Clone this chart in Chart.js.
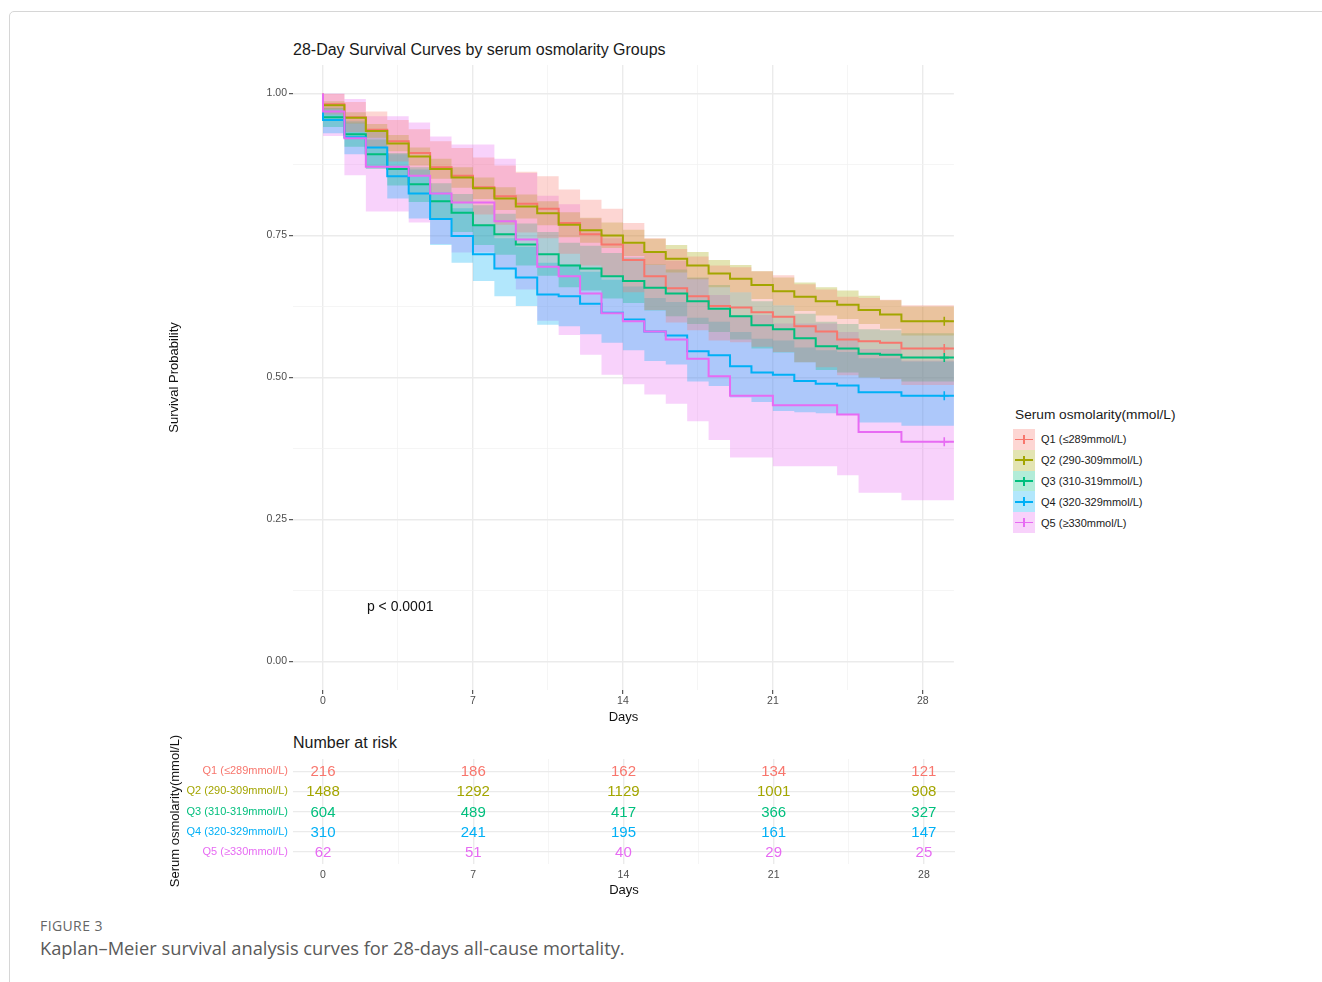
<!DOCTYPE html>
<html>
<head>
<meta charset="utf-8">
<script src="https://cdn.jsdelivr.net/npm/chart.js@4.4.1/dist/chart.umd.min.js"></script>
<style>
  body { margin: 0; background: #fff; width: 1322px; height: 982px; overflow: hidden; position: relative;
         font-family: "Liberation Sans", Arial, sans-serif; }
  .frame { position: absolute; left: 9px; top: 11px; width: 1400px; height: 1000px;
           border: 1px solid #d6d6d6; border-radius: 5px; }
  .abs { position: absolute; white-space: nowrap; }
  #mainTitle { left: 293px; top: 41px; font-size: 16px; color: #1a1a1a; }
  #kmWrap { left: 150px; top: 30px; }
  #riskWrap { left: 150px; top: 725px; }
  #riskTitle { left: 293px; top: 734px; font-size: 16px; color: #1a1a1a; }
  #riskYTitle { left: 75px; top: 803px; width: 200px; height: 16px; line-height: 16px; text-align: center;
                font-size: 13px; color: #111; transform: rotate(-90deg); }
  #legend { left: 1013px; top: 406px; }
  #legend .lgTitle { font-size: 13.7px; color: #1a1a1a; height: 20px; line-height: 18px; margin-left: 2px; margin-bottom: 3px; }
  .lgItem { height: 20.8px; display: flex; align-items: center; }
  .lgKey { position: relative; width: 22px; height: 20.8px; }
  .lgKey .h { position: absolute; left: 2px; right: 2px; top: 9.6px; height: 1.6px; }
  .lgKey .v { position: absolute; left: 10.2px; width: 1.6px; top: 6px; height: 9px; }
  .lgLabel { font-size: 11px; color: #1a1a1a; margin-left: 6px; }
  #figLabel { left: 40px; top: 916px; font-family: "Open Sans", sans-serif; font-size: 14px; color: #666; letter-spacing: 0.4px; }
  #figCaption { left: 40px; top: 935px; font-family: "Open Sans", sans-serif; font-size: 18.3px; color: #5a5a5a; }
</style>
</head>
<body>
<div class="frame"></div>
<div id="mainTitle" class="abs">28-Day Survival Curves by serum osmolarity Groups</div>
<div id="kmWrap" class="abs"><canvas id="km" width="810" height="700"></canvas></div>
<div id="legend" class="abs"><div class="lgTitle">Serum osmolarity(mmol/L)</div></div>
<div id="riskTitle" class="abs">Number at risk</div>
<div id="riskWrap" class="abs"><canvas id="risk" width="810" height="180"></canvas></div>
<div id="riskYTitle" class="abs">Serum osmolarity(mmol/L)</div>
<div id="figLabel" class="abs">FIGURE 3</div>
<div id="figCaption" class="abs">Kaplan–Meier survival analysis curves for 28-days all-cause mortality.</div>

<script>
// ---- data ----
const days = [0, 1, 2, 3, 4, 5, 6, 7, 8, 9, 10, 11, 12, 13, 14, 15, 16, 17, 18, 19, 20, 21, 22, 23, 24, 25, 26, 27, 28];
const xEnd = 29.45;      // curves run on to the right edge of the panel
const xMin = -1.4;
const censorDay = 29;

const groupNames = ["Q1 (≤289mmol/L)", "Q2 (290-309mmol/L)", "Q3 (310-319mmol/L)", "Q4 (320-329mmol/L)", "Q5 (≥330mmol/L)"];
const groupColors = ["#F8766D", "#A3A500", "#00BF7D", "#00B0F6", "#E76BF3"];

const q1Surv  = [1.000, 0.981, 0.958, 0.936, 0.916, 0.895, 0.870, 0.855, 0.835, 0.819, 0.806, 0.797, 0.772, 0.752, 0.734, 0.707, 0.678, 0.657, 0.643, 0.626, 0.623, 0.615, 0.607, 0.590, 0.581, 0.567, 0.564, 0.561, 0.551];
const q1Lower = [1.000, 0.963, 0.932, 0.905, 0.880, 0.855, 0.826, 0.809, 0.787, 0.769, 0.755, 0.745, 0.718, 0.697, 0.678, 0.650, 0.619, 0.597, 0.583, 0.565, 0.562, 0.554, 0.545, 0.527, 0.518, 0.504, 0.500, 0.497, 0.487];
const q1Upper = [1.000, 0.999, 0.985, 0.968, 0.953, 0.937, 0.916, 0.904, 0.887, 0.873, 0.862, 0.854, 0.831, 0.813, 0.797, 0.772, 0.745, 0.726, 0.713, 0.697, 0.694, 0.687, 0.680, 0.664, 0.655, 0.642, 0.640, 0.637, 0.627];

const q2Surv  = [0.998, 0.979, 0.957, 0.934, 0.912, 0.889, 0.867, 0.852, 0.833, 0.815, 0.801, 0.789, 0.769, 0.759, 0.750, 0.737, 0.721, 0.709, 0.697, 0.683, 0.674, 0.663, 0.652, 0.642, 0.634, 0.628, 0.619, 0.611, 0.599];
const q2Lower = [0.995, 0.972, 0.947, 0.922, 0.898, 0.873, 0.850, 0.834, 0.814, 0.795, 0.780, 0.768, 0.747, 0.737, 0.728, 0.714, 0.698, 0.685, 0.673, 0.659, 0.650, 0.638, 0.627, 0.617, 0.609, 0.603, 0.594, 0.586, 0.574];
const q2Upper = [1.000, 0.986, 0.967, 0.946, 0.927, 0.905, 0.885, 0.870, 0.852, 0.835, 0.822, 0.810, 0.791, 0.781, 0.773, 0.760, 0.744, 0.733, 0.721, 0.707, 0.698, 0.687, 0.676, 0.667, 0.659, 0.653, 0.644, 0.636, 0.625];

const q3Surv  = [0.993, 0.958, 0.928, 0.893, 0.867, 0.840, 0.810, 0.790, 0.768, 0.752, 0.734, 0.717, 0.697, 0.692, 0.678, 0.670, 0.658, 0.648, 0.634, 0.621, 0.608, 0.592, 0.585, 0.569, 0.555, 0.551, 0.542, 0.540, 0.535];
const q3Lower = [0.986, 0.941, 0.906, 0.867, 0.838, 0.809, 0.777, 0.756, 0.733, 0.716, 0.697, 0.679, 0.659, 0.653, 0.639, 0.631, 0.618, 0.608, 0.594, 0.580, 0.567, 0.551, 0.544, 0.527, 0.513, 0.509, 0.500, 0.498, 0.493];
const q3Upper = [1.000, 0.974, 0.949, 0.919, 0.895, 0.870, 0.842, 0.823, 0.803, 0.788, 0.771, 0.756, 0.737, 0.732, 0.719, 0.711, 0.699, 0.690, 0.676, 0.663, 0.650, 0.634, 0.627, 0.612, 0.598, 0.594, 0.585, 0.583, 0.578];

const q4Surv  = [0.988, 0.953, 0.923, 0.905, 0.854, 0.824, 0.779, 0.749, 0.717, 0.692, 0.676, 0.646, 0.643, 0.630, 0.614, 0.602, 0.581, 0.574, 0.546, 0.539, 0.520, 0.509, 0.505, 0.494, 0.489, 0.486, 0.474, 0.474, 0.468];
const q4Lower = [0.975, 0.930, 0.893, 0.870, 0.815, 0.780, 0.733, 0.702, 0.670, 0.643, 0.626, 0.593, 0.590, 0.576, 0.561, 0.548, 0.529, 0.523, 0.493, 0.485, 0.465, 0.457, 0.441, 0.439, 0.437, 0.434, 0.421, 0.421, 0.415];
const q4Upper = [1.000, 0.975, 0.952, 0.937, 0.893, 0.866, 0.826, 0.798, 0.768, 0.745, 0.730, 0.702, 0.699, 0.686, 0.672, 0.660, 0.640, 0.633, 0.605, 0.598, 0.580, 0.568, 0.565, 0.553, 0.548, 0.545, 0.534, 0.534, 0.528];

const q5Surv  = [1.000, 0.968, 0.921, 0.871, 0.871, 0.855, 0.824, 0.808, 0.808, 0.775, 0.743, 0.695, 0.678, 0.648, 0.613, 0.599, 0.581, 0.567, 0.533, 0.502, 0.468, 0.468, 0.451, 0.451, 0.451, 0.435, 0.404, 0.404, 0.387];
const q5Lower = [1.000, 0.925, 0.856, 0.792, 0.792, 0.773, 0.735, 0.720, 0.720, 0.690, 0.655, 0.600, 0.575, 0.540, 0.505, 0.488, 0.470, 0.454, 0.423, 0.390, 0.359, 0.359, 0.344, 0.344, 0.344, 0.328, 0.297, 0.297, 0.284];
const q5Upper = [1.000, 1.000, 0.990, 0.960, 0.960, 0.949, 0.924, 0.910, 0.910, 0.885, 0.860, 0.820, 0.805, 0.780, 0.745, 0.735, 0.720, 0.705, 0.675, 0.645, 0.610, 0.610, 0.595, 0.595, 0.595, 0.580, 0.550, 0.550, 0.530];

// number at risk table
const riskDays = [0, 7, 14, 21, 28];
const q1Risk = [216, 186, 162, 134, 121];
const q2Risk = [1488, 1292, 1129, 1001, 908];
const q3Risk = [604, 489, 417, 366, 327];
const q4Risk = [310, 241, 195, 161, 147];
const q5Risk = [62, 51, 40, 29, 25];

// axis breaks (major labelled, minor only gridlines)
const xGrid = [0, 3.5, 7, 10.5, 14, 17.5, 21, 24.5, 28];
const xMajor = [0, 7, 14, 21, 28];
const yGrid = [0, 0.125, 0.25, 0.375, 0.5, 0.625, 0.75, 0.875, 1];
const yMajor = [0, 0.25, 0.5, 0.75, 1];

const pText = "p < 0.0001";
const pPos = [2.05, 0.096];

// ---- helpers ----
function rgba(hex, a) {
    const n = parseInt(hex.slice(1), 16);
    return `rgba(${(n >> 16) & 255}, ${(n >> 8) & 255}, ${n & 255}, ${a})`;
}

// step points, last value carried to the panel edge
function toPoints(vals) {
    const pts = days.map((d, i) => ({ x: d, y: vals[i] }));
    pts.push({ x: xEnd, y: vals[vals.length - 1] });
    return pts;
}

const groups = [
    { name: groupNames[0], color: groupColors[0], surv: q1Surv, lower: q1Lower, upper: q1Upper, risk: q1Risk },
    { name: groupNames[1], color: groupColors[1], surv: q2Surv, lower: q2Lower, upper: q2Upper, risk: q2Risk },
    { name: groupNames[2], color: groupColors[2], surv: q3Surv, lower: q3Lower, upper: q3Upper, risk: q3Risk },
    { name: groupNames[3], color: groupColors[3], surv: q4Surv, lower: q4Lower, upper: q4Upper, risk: q4Risk },
    { name: groupNames[4], color: groupColors[4], surv: q5Surv, lower: q5Lower, upper: q5Upper, risk: q5Risk },
];

Chart.defaults.font.family = '"Liberation Sans", Arial, sans-serif';
Chart.defaults.animation = false;

const isMajorX = (v) => xMajor.includes(v);
const isMajorY = (v) => yMajor.includes(v);

// ---- survival chart ----
const kmSets = [];
// censor marks on top, then lines (Q5 drawn last in ggplot -> first here)
groups.slice().reverse().forEach((g) => {
    kmSets.push({
        data: [{ x: censorDay, y: g.surv[g.surv.length - 1] }],
        showLine: false, pointStyle: "cross", pointRadius: 4.5, pointBorderWidth: 1.6,
        borderColor: g.color, pointBorderColor: g.color, backgroundColor: g.color,
    });
});
groups.slice().reverse().forEach((g) => {
    kmSets.push({
        data: toPoints(g.surv), borderColor: g.color, borderWidth: 2,
        stepped: "after", pointRadius: 0, fill: false,
    });
});
groups.forEach((g) => {
    kmSets.push({
        data: toPoints(g.upper), borderColor: "rgba(0,0,0,0)", borderWidth: 0,
        stepped: "after", pointRadius: 0, fill: false,
    });
    kmSets.push({
        data: toPoints(g.lower), borderColor: "rgba(0,0,0,0)", borderWidth: 0,
        stepped: "after", pointRadius: 0, fill: "-1", backgroundColor: rgba(g.color, 0.3),
    });
});

const pvalPlugin = {
    id: "pval",
    afterDatasetsDraw(chart) {
        const { ctx, scales } = chart;
        ctx.save();
        ctx.font = '14px "Liberation Sans", Arial, sans-serif';
        ctx.fillStyle = "#111";
        ctx.textAlign = "left";
        ctx.textBaseline = "middle";
        ctx.fillText(pText, scales.x.getPixelForValue(pPos[0]), scales.y.getPixelForValue(pPos[1]));
        ctx.restore();
    },
};

const xScaleBase = (height, withTicks) => ({
    type: "linear", min: xMin, max: xEnd,
    afterBuildTicks: (s) => { s.ticks = xGrid.map((v) => ({ value: v })); },
    afterFit: (s) => { s.height = height; },
    border: { display: false },
    grid: {
        color: (c) => isMajorX(c.tick.value) ? "#ebebeb" : "#f3f3f3",
        lineWidth: (c) => isMajorX(c.tick.value) ? 1.4 : 0.8,
        drawTicks: withTicks, tickLength: 4, tickWidth: 1,
        tickColor: (c) => isMajorX(c.tick.value) ? "#333" : "rgba(0,0,0,0)",
    },
    ticks: {
        autoSkip: false, maxRotation: 0, padding: withTicks ? 1 : 5,
        color: "#4d4d4d", font: { size: 10.5 },
        callback: (v) => isMajorX(v) ? String(v) : "",
    },
    title: { display: true, text: "Days", color: "#111", font: { size: 13 } },
});

new Chart(document.getElementById("km"), {
    type: "line",
    data: { datasets: kmSets },
    options: {
        responsive: false,
        layout: { padding: { left: 13, top: 35, right: 5, bottom: 1 } },
        plugins: { legend: { display: false }, tooltip: { enabled: false }, filler: { drawTime: "beforeDatasetsDraw" } },
        scales: {
            x: xScaleBase(39, true),
            y: {
                type: "linear", min: -0.05, max: 1.05,
                afterBuildTicks: (s) => { s.ticks = yGrid.map((v) => ({ value: v })); },
                afterFit: (s) => { s.width = 130; },
                border: { display: false },
                grid: {
                    color: (c) => isMajorY(c.tick.value) ? "#ebebeb" : "#f3f3f3",
                    lineWidth: (c) => isMajorY(c.tick.value) ? 1.4 : 0.8,
                    tickLength: 4, tickWidth: 1,
                    tickColor: (c) => isMajorY(c.tick.value) ? "#333" : "rgba(0,0,0,0)",
                },
                ticks: {
                    autoSkip: false, padding: 2, color: "#4d4d4d", font: { size: 10.5 },
                    callback: (v) => isMajorY(v) ? v.toFixed(2) : "",
                },
                title: { display: true, text: "Survival Probability", color: "#111", font: { size: 13 } },
            },
        },
    },
    plugins: [pvalPlugin],
});

// ---- legend ----
const legend = document.getElementById("legend");
groups.forEach((g) => {
    const item = document.createElement("div");
    item.className = "lgItem";
    item.innerHTML = `<div class="lgKey" style="background:${rgba(g.color, 0.3)}">` +
        `<div class="h" style="background:${g.color}"></div><div class="v" style="background:${g.color}"></div></div>` +
        `<span class="lgLabel">${g.name}</span>`;
    legend.appendChild(item);
});

// ---- number at risk table ----
const riskSets = groups.map((g, i) => ({
    data: riskDays.map((d, j) => ({ x: d, y: i + 1, n: g.risk[j] })),
    pointRadius: 0, showLine: false, color: g.color,
}));

const riskTextPlugin = {
    id: "riskText",
    afterDatasetsDraw(chart) {
        const ctx = chart.ctx;
        ctx.save();
        ctx.font = '15px "Liberation Sans", Arial, sans-serif';
        ctx.textAlign = "center";
        ctx.textBaseline = "middle";
        chart.data.datasets.forEach((ds, i) => {
            const meta = chart.getDatasetMeta(i);
            ctx.fillStyle = ds.color;
            meta.data.forEach((pt, j) => ctx.fillText(String(ds.data[j].n), pt.x, pt.y + 1));
        });
        ctx.restore();
    },
};

new Chart(document.getElementById("risk"), {
    type: "scatter",
    data: { datasets: riskSets },
    options: {
        responsive: false,
        layout: { padding: { left: 13, top: 34, right: 5, bottom: 3 } },
        plugins: { legend: { display: false }, tooltip: { enabled: false } },
        scales: {
            x: xScaleBase(38, false),
            y: {
                type: "linear", min: 0.4, max: 5.6, reverse: true,
                afterBuildTicks: (s) => { s.ticks = [1, 2, 3, 4, 5].map((v) => ({ value: v })); },
                afterFit: (s) => { s.width = 130; },
                border: { display: false },
                grid: { color: "#ebebeb", lineWidth: 1.2, drawTicks: false },
                ticks: {
                    autoSkip: false, padding: 5, font: { size: 11 },
                    color: (c) => groupColors[c.tick.value - 1],
                    callback: (v) => groupNames[v - 1],
                },
            },
        },
    },
    plugins: [riskTextPlugin],
});
</script>
</body>
</html>
